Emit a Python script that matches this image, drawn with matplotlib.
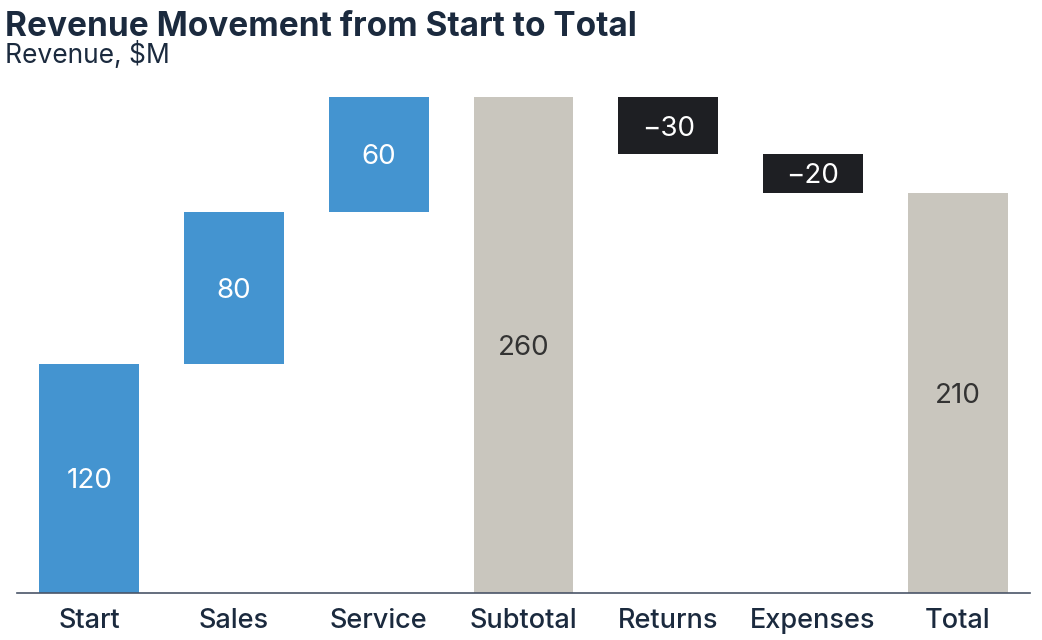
from matplotlib import pyplot as plt

# waterfall data
steps = ["Start", "Sales", "Service", "Subtotal", "Returns", "Expenses", "Total"]
changes = [120, 80, 60, None, -30, -20, None]
kinds = ["up", "up", "up", "total", "down", "down", "total"]

plt.rcParams['font.family'] = ['Inter', 'DejaVu Sans']

colors = {"up": "#4494d0", "down": "#1e1f23", "total": "#c9c6be"}
text_colors = {"up": "white", "down": "white", "total": "#333333"}

fig = plt.figure(figsize=(10.42, 6.4), dpi=100)
ax = fig.add_axes([0.0163, 0.074, 0.9722, 0.774])

running = 0
for i, (name, ch, kind) in enumerate(zip(steps, changes, kinds)):
    if kind == "total":
        bottom = 0
        height = running
        label = str(running)
    else:
        if ch >= 0:
            bottom = running
        else:
            bottom = running + ch
        height = abs(ch)
        running += ch
        label = str(ch).replace("-", "\u2212")
    ax.bar(i, height, bottom=bottom, width=0.69, color=colors[kind])
    ax.text(i, bottom + height / 2, label, ha='center', va='center_baseline',
            fontsize=20, color=text_colors[kind])

ax.set_xlim(-0.5, 6.5)
ax.set_ylim(0, 260)
ax.set_xticks(range(len(steps)))
ax.set_xticklabels(steps, fontsize=19.5, fontweight='medium', color="#1b2a3e")
ax.tick_params(axis='x', length=0, pad=11)
ax.set_yticks([])
for side in ['left', 'right', 'top']:
    ax.spines[side].set_visible(False)
ax.spines['bottom'].set_color("#4a5568")
ax.spines['bottom'].set_linewidth(1.2)

fig.text(0.005, 0.944, "Revenue Movement from Start to Total", fontsize=24,
         fontweight='bold', color="#1b2a3e", va='baseline')
fig.text(0.005, 0.902, "Revenue, $M", fontsize=19, color="#1b2a3e", va='baseline')

fig.savefig("out.png")
